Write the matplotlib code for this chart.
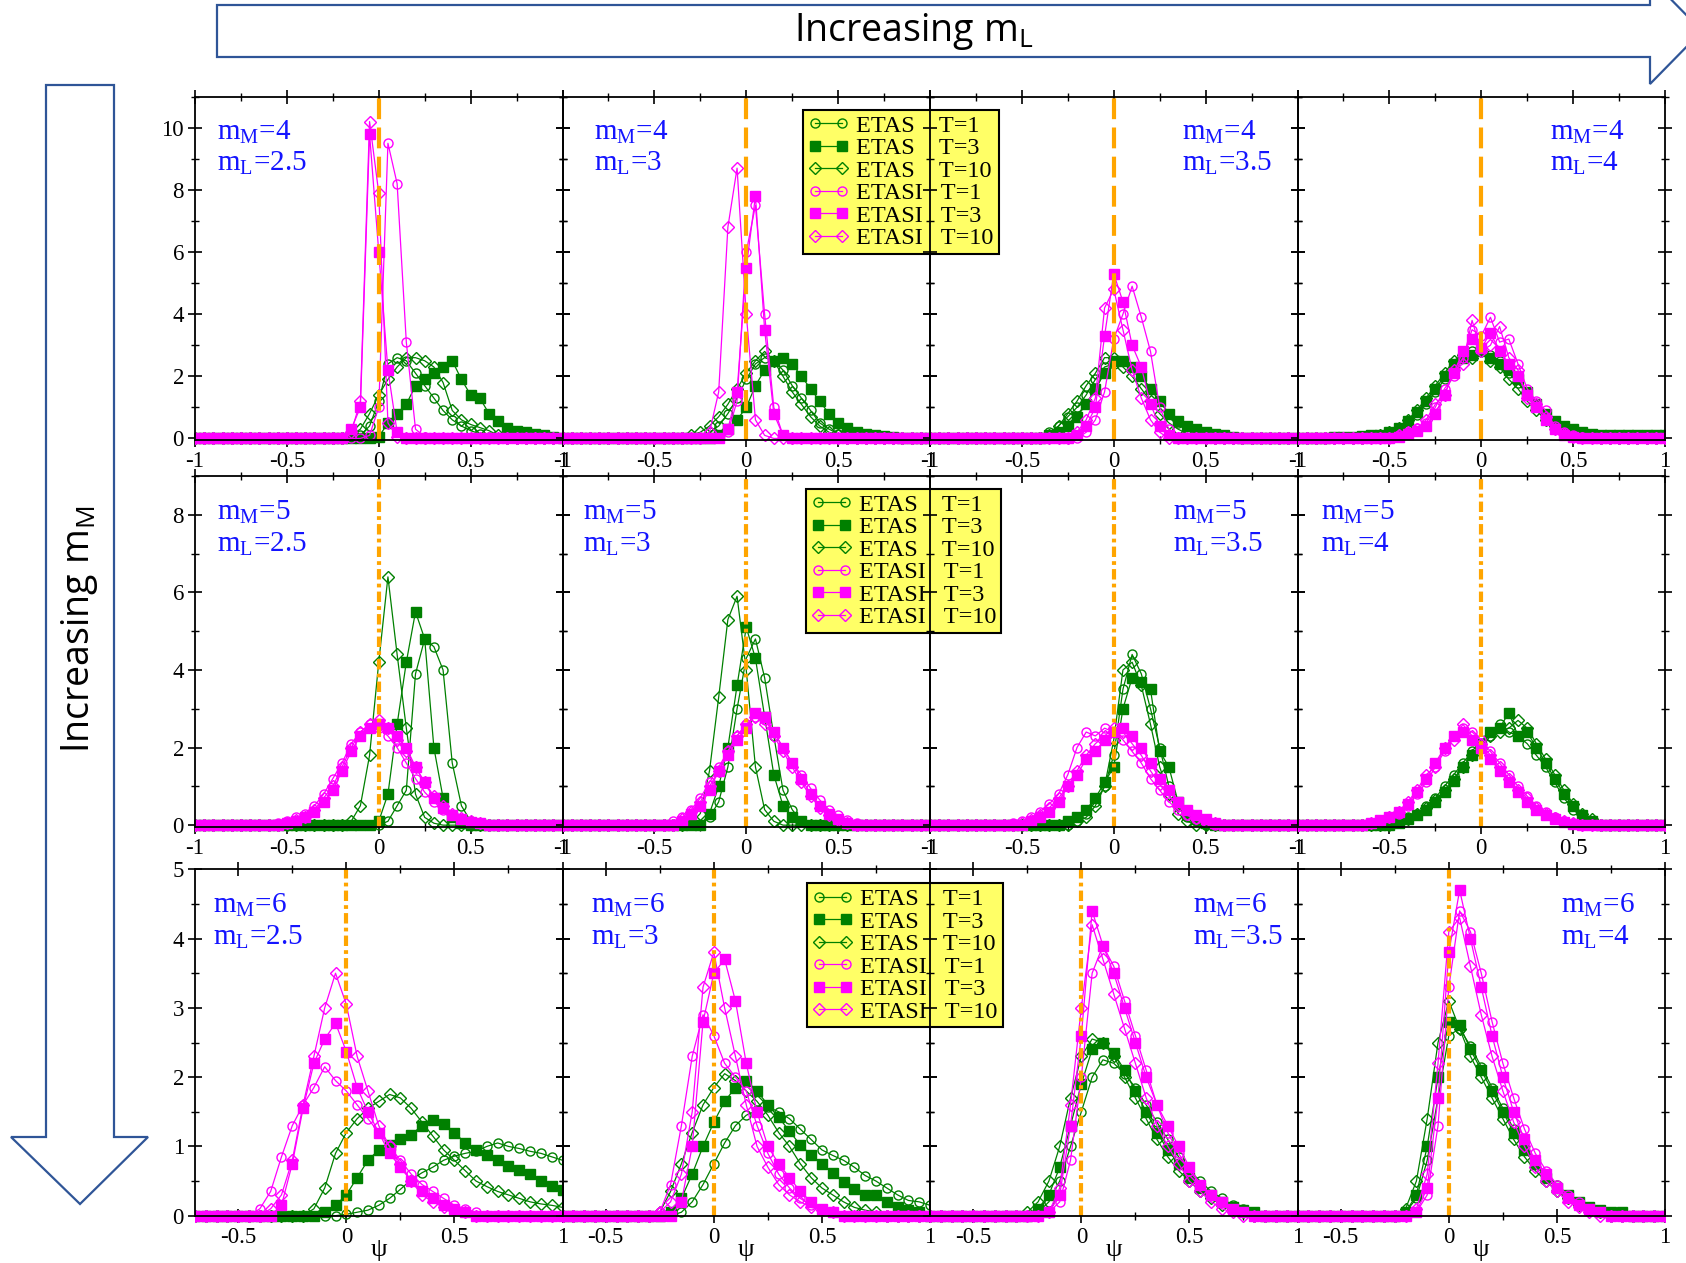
import matplotlib.pyplot as plt
from matplotlib.patches import Polygon, Rectangle
from matplotlib.ticker import MultipleLocator
import numpy as np

plt.rcParams['font.family'] = 'serif'
plt.rcParams['font.serif'] = ['Liberation Serif', 'DejaVu Serif']

# histogram bin centres in psi
psi = [-1.0, -0.95, -0.9, -0.85, -0.8, -0.75, -0.7, -0.65, -0.6, -0.55, -0.5,
       -0.45, -0.4, -0.35, -0.3, -0.25, -0.2, -0.15, -0.1, -0.05, 0.0,
       0.05, 0.1, 0.15, 0.2, 0.25, 0.3, 0.35, 0.4, 0.45, 0.5,
       0.55, 0.6, 0.65, 0.7, 0.75, 0.8, 0.85, 0.9, 0.95, 1.0]

series_names = ['ETAS    T=1', 'ETAS    T=3', 'ETAS    T=10',
                'ETASI   T=1', 'ETASI   T=3', 'ETASI   T=10']
m_M_values = ['4', '5', '6']
m_L_values = ['2.5', '3', '3.5', '4']

# each curve: (first bin with counts, densities from that bin on); zero elsewhere
# order: ETAS T=1, T=3, T=10, ETASI T=1, T=3, T=10
r1c1 = [
    (-0.1, [0.1, 0.4, 1.2, 2.4, 2.6, 2.5, 2.1, 1.7, 1.3, 0.9, 0.6, 0.4, 0.25, 0.15, 0.05]),
    (0.0, [0.05, 0.5, 0.8, 1.1, 1.7, 1.9, 2.1, 2.3, 2.5, 1.9, 1.4, 1.3, 0.8, 0.55, 0.35, 0.25, 0.2, 0.15, 0.1, 0.05]),
    (-0.15, [0.1, 0.3, 0.8, 1.4, 1.9, 2.3, 2.6, 2.6, 2.5, 2.3, 1.8, 0.9, 0.6, 0.45, 0.35, 0.25, 0.1]),
    (-0.05, [0.1, 1.0, 9.5, 8.2, 3.1, 0.3, 0.05]),
    (-0.15, [0.3, 1.0, 9.8, 6.0, 2.2, 0.2]),
    (-0.15, [0.2, 1.2, 10.2, 7.9, 0.5, 0.05]),
]
r1c2 = [
    (-0.2, [0.2, 0.4, 0.8, 1.3, 1.9, 2.4, 2.6, 2.5, 2.2, 1.7, 1.3, 0.9, 0.5, 0.3, 0.15, 0.05]),
    (-0.15, [0.1, 0.3, 0.6, 1.0, 1.7, 2.2, 2.5, 2.6, 2.4, 2.0, 1.6, 1.2, 0.8, 0.5, 0.35, 0.2, 0.15, 0.1, 0.07, 0.05, 0.03]),
    (-0.3, [0.1, 0.2, 0.4, 0.7, 1.1, 1.6, 2.1, 2.5, 2.8, 2.5, 2.0, 1.5, 1.1, 0.7, 0.4, 0.2, 0.1]),
    (-0.1, [0.2, 1.2, 6.0, 7.5, 4.0, 1.0, 0.1]),
    (-0.1, [0.3, 1.5, 5.5, 7.8, 3.5, 0.8, 0.1]),
    (-0.2, [0.2, 1.5, 6.8, 8.7, 4.0, 0.6, 0.1]),
]
r1c3 = [
    (-0.4, [0.05, 0.2, 0.4, 0.7, 1.0, 1.4, 1.9, 2.3, 2.4, 2.5, 2.3, 2.0, 1.6, 1.2, 0.8, 0.5, 0.3, 0.15, 0.05]),
    (-0.35, [0.1, 0.2, 0.4, 0.7, 1.1, 1.6, 2.1, 2.5, 2.5, 2.3, 2.0, 1.6, 1.2, 0.8, 0.55, 0.4, 0.3, 0.2, 0.15, 0.1, 0.05, 0.03]),
    (-0.35, [0.1, 0.4, 0.8, 1.2, 1.7, 2.1, 2.6, 2.6, 2.3, 2.0, 1.6, 1.2, 0.8, 0.5, 0.3, 0.15, 0.05]),
    (-0.15, [0.2, 0.6, 1.5, 3.2, 4.0, 4.9, 3.9, 2.8, 1.0, 0.3, 0.05]),
    (-0.2, [0.1, 0.4, 1.0, 3.3, 5.3, 4.4, 3.0, 2.3, 1.1, 0.4, 0.1]),
    (-0.2, [0.2, 0.6, 1.3, 4.2, 4.8, 3.5, 2.2, 1.3, 0.6, 0.2]),
]
r1c4 = [
    (-0.8, [0.03, 0.04, 0.05, 0.06, 0.08, 0.1, 0.15, 0.3, 0.45, 0.75, 1.1, 1.5, 1.9, 2.3, 2.6, 2.8, 2.9,
            2.7, 2.5, 2.1, 1.8, 1.4, 1.0, 0.7, 0.45, 0.3, 0.2, 0.12, 0.08, 0.06, 0.05, 0.04, 0.03]),
    (-0.8, [0.05, 0.05, 0.06, 0.08, 0.1, 0.12, 0.2, 0.35, 0.55, 0.85, 1.2, 1.6, 2.0, 2.4, 2.6, 2.7, 2.8,
            2.6, 2.4, 2.2, 1.9, 1.5, 1.1, 0.8, 0.55, 0.4, 0.3, 0.2, 0.15, 0.12, 0.1, 0.1, 0.1, 0.1, 0.1, 0.1, 0.1]),
    (-0.6, [0.05, 0.1, 0.2, 0.35, 0.6, 0.9, 1.3, 1.7, 2.1, 2.5, 2.7, 2.6, 2.8, 2.5, 2.3, 1.9, 1.6, 1.2,
            0.9, 0.6, 0.4, 0.25, 0.15, 0.1, 0.05]),
    (-0.45, [0.1, 0.2, 0.35, 0.5, 1.0, 1.6, 2.0, 2.6, 3.5, 3.3, 3.9, 3.1, 3.2, 2.4, 1.6, 1.2, 0.9, 0.4, 0.2, 0.1, 0.05]),
    (-0.45, [0.05, 0.15, 0.25, 0.4, 0.8, 1.4, 2.1, 2.8, 3.2, 2.9, 3.4, 2.8, 2.4, 2.0, 1.4, 1.0, 0.6, 0.3, 0.1, 0.05]),
    (-0.45, [0.1, 0.2, 0.3, 0.6, 1.1, 1.4, 2.2, 2.4, 3.8, 2.8, 3.0, 3.6, 2.6, 2.2, 1.3, 1.1, 0.7, 0.3, 0.15, 0.05]),
]

r2c1 = [
    (0.05, [0.1, 0.5, 0.9, 3.9, 4.8, 4.6, 4.0, 1.6, 0.5, 0.1]),
    (0.0, [0.1, 0.8, 2.6, 4.2, 5.5, 4.8, 2.0, 0.7, 0.2, 0.05]),
    (-0.15, [0.1, 0.5, 1.8, 4.2, 6.4, 4.4, 2.5, 0.8, 0.2, 0.05]),
    (-0.55, [0.05, 0.1, 0.2, 0.3, 0.5, 0.8, 1.2, 1.6, 2.1, 2.4, 2.6, 2.5, 2.3, 2.0, 1.6, 1.2, 0.85, 0.6, 0.4, 0.25, 0.15, 0.08, 0.05]),
    (-0.5, [0.05, 0.1, 0.2, 0.35, 0.6, 0.9, 1.4, 1.9, 2.3, 2.5, 2.6, 2.5, 2.3, 2.0, 1.5, 1.1, 0.7, 0.45, 0.25, 0.15, 0.08, 0.05]),
    (-0.5, [0.05, 0.12, 0.22, 0.4, 0.7, 1.0, 1.5, 2.0, 2.4, 2.6, 2.7, 2.5, 2.2, 1.9, 1.5, 1.1, 0.75, 0.5, 0.3, 0.18, 0.1, 0.05]),
]
r2c2 = [
    (-0.2, [0.2, 0.6, 1.5, 3.0, 4.3, 4.8, 3.8, 2.3, 0.9, 0.4, 0.1]),
    (-0.2, [0.3, 1.0, 2.0, 3.6, 5.1, 4.3, 2.8, 1.3, 0.5, 0.2, 0.1]),
    (-0.3, [0.05, 0.3, 1.4, 3.3, 5.3, 5.9, 4.0, 1.5, 0.4, 0.1]),
    (-0.4, [0.1, 0.2, 0.4, 0.7, 1.1, 1.5, 1.9, 2.3, 2.6, 2.8, 2.7, 2.4, 2.0, 1.6, 1.3, 0.95, 0.65, 0.4, 0.25, 0.12, 0.05]),
    (-0.35, [0.1, 0.3, 0.5, 0.9, 1.4, 1.8, 2.2, 2.5, 2.9, 2.8, 2.4, 2.0, 1.6, 1.2, 0.8, 0.5, 0.3, 0.15, 0.05]),
    (-0.35, [0.15, 0.35, 0.6, 1.0, 1.4, 1.9, 2.3, 2.6, 2.8, 2.6, 2.3, 1.9, 1.5, 1.1, 0.75, 0.45, 0.25, 0.12, 0.05]),
]
r2c3 = [
    (-0.2, [0.1, 0.3, 0.6, 1.0, 1.8, 3.5, 4.4, 3.9, 3.0, 2.0, 1.0, 0.5, 0.2, 0.1]),
    (-0.25, [0.1, 0.2, 0.4, 0.7, 1.1, 1.5, 3.0, 3.8, 3.7, 3.5, 1.9, 1.5, 0.6, 0.3, 0.15, 0.05]),
    (-0.2, [0.1, 0.2, 0.5, 1.0, 2.2, 4.0, 4.2, 3.6, 2.6, 1.5, 0.8, 0.3, 0.1]),
    (-0.55, [0.05, 0.1, 0.2, 0.35, 0.55, 0.8, 1.3, 2.0, 2.4, 2.3, 2.5, 2.4, 2.2, 1.9, 1.6, 1.2, 0.9, 0.6, 0.4, 0.25, 0.15, 0.08]),
    (-0.45, [0.1, 0.2, 0.35, 0.6, 1.0, 1.3, 1.7, 1.9, 2.2, 2.4, 2.5, 2.3, 2.0, 1.6, 1.2, 0.9, 0.6, 0.4, 0.25, 0.15, 0.05]),
    (-0.5, [0.05, 0.12, 0.25, 0.45, 0.7, 1.0, 1.4, 1.8, 2.1, 2.3, 2.5, 2.4, 2.1, 1.8, 1.4, 1.05, 0.75, 0.5, 0.3, 0.18, 0.1, 0.05]),
]
r2c4 = [
    (-0.45, [0.1, 0.2, 0.3, 0.5, 0.7, 1.0, 1.3, 1.6, 1.9, 2.2, 2.3, 2.6, 2.4, 2.3, 2.1, 1.8, 1.5, 1.1, 0.7, 0.4, 0.2, 0.1]),
    (-0.45, [0.05, 0.15, 0.25, 0.4, 0.6, 0.85, 1.15, 1.5, 1.8, 2.1, 2.4, 2.5, 2.9, 2.3, 2.4, 2.0, 1.6, 1.2, 0.8, 0.5, 0.25, 0.1]),
    (-0.45, [0.08, 0.15, 0.3, 0.45, 0.65, 0.9, 1.2, 1.5, 1.8, 2.0, 2.3, 2.4, 2.5, 2.7, 2.5, 2.1, 1.7, 1.3, 0.9, 0.55, 0.3, 0.15]),
    (-0.6, [0.05, 0.1, 0.2, 0.3, 0.5, 0.8, 1.1, 1.5, 1.9, 2.3, 2.5, 2.4, 2.2, 1.9, 1.6, 1.3, 1.0, 0.75, 0.5, 0.35, 0.2, 0.1, 0.05]),
    (-0.6, [0.05, 0.12, 0.22, 0.35, 0.55, 0.85, 1.2, 1.6, 2.0, 2.3, 2.4, 2.2, 2.0, 1.7, 1.4, 1.1, 0.85, 0.6, 0.4, 0.25, 0.15, 0.08, 0.04]),
    (-0.6, [0.05, 0.1, 0.2, 0.35, 0.6, 0.9, 1.3, 1.5, 2.0, 2.2, 2.6, 2.3, 2.1, 1.8, 1.5, 1.2, 0.9, 0.7, 0.45, 0.3, 0.18, 0.1, 0.05]),
]

r3c1 = [
    (0.0, [0.02, 0.05, 0.08, 0.15, 0.25, 0.38, 0.52, 0.62, 0.7, 0.8, 0.86, 0.9, 0.93, 1.0, 1.05, 1.0, 0.97, 0.93, 0.9, 0.85, 0.8]),
    (-0.1, [0.05, 0.15, 0.3, 0.55, 0.8, 0.95, 1.02, 1.1, 1.17, 1.3, 1.38, 1.33, 1.2, 1.05, 0.95, 0.87, 0.8, 0.72, 0.66, 0.6, 0.5, 0.43, 0.37]),
    (-0.15, [0.1, 0.4, 0.9, 1.2, 1.4, 1.55, 1.65, 1.75, 1.7, 1.55, 1.35, 1.15, 0.95, 0.8, 0.65, 0.5, 0.42, 0.35, 0.3, 0.25, 0.2, 0.17, 0.15, 0.12]),
    (-0.4, [0.1, 0.35, 0.85, 1.3, 1.6, 1.85, 2.15, 1.95, 1.8, 1.6, 1.4, 1.2, 1.0, 0.8, 0.6, 0.45, 0.35, 0.25, 0.15, 0.1, 0.05]),
    (-0.3, [0.15, 0.75, 1.55, 2.2, 2.55, 2.78, 2.37, 1.85, 1.5, 1.2, 0.9, 0.7, 0.5, 0.35, 0.25, 0.15, 0.1, 0.05]),
    (-0.35, [0.1, 0.3, 0.8, 1.6, 2.3, 3.0, 3.5, 3.05, 2.3, 1.8, 1.3, 1.0, 0.75, 0.5, 0.3, 0.2, 0.12, 0.08, 0.05]),
]
r3c2 = [
    (-0.15, [0.05, 0.2, 0.45, 0.75, 1.05, 1.3, 1.45, 1.52, 1.57, 1.5, 1.4, 1.25, 1.1, 0.95, 0.87, 0.8, 0.7, 0.58, 0.5, 0.4, 0.3, 0.22, 0.2, 0.15]),
    (-0.2, [0.05, 0.25, 0.6, 1.0, 1.35, 1.65, 1.85, 1.95, 1.8, 1.6, 1.42, 1.22, 1.02, 0.88, 0.75, 0.62, 0.48, 0.38, 0.3, 0.3, 0.2, 0.12, 0.08, 0.05]),
    (-0.25, [0.05, 0.35, 0.75, 1.2, 1.6, 1.85, 2.05, 1.95, 1.8, 1.65, 1.45, 1.2, 1.0, 0.75, 0.55, 0.4, 0.3, 0.2, 0.12, 0.08, 0.05]),
    (-0.25, [0.05, 0.45, 1.3, 2.3, 2.9, 2.6, 2.2, 2.0, 1.8, 1.3, 0.9, 0.6, 0.4, 0.25, 0.15, 0.1, 0.05]),
    (-0.15, [0.2, 1.0, 2.8, 3.5, 3.7, 3.1, 2.2, 1.5, 1.0, 0.75, 0.55, 0.35, 0.2, 0.1, 0.05]),
    (-0.25, [0.05, 0.2, 0.6, 1.5, 3.3, 3.8, 3.0, 2.3, 1.6, 1.0, 0.7, 0.45, 0.3, 0.2, 0.12, 0.08, 0.05]),
]
r3c3 = [
    (-0.2, [0.05, 0.2, 0.5, 1.0, 1.5, 2.0, 2.25, 2.2, 2.05, 1.85, 1.6, 1.35, 1.1, 0.85, 0.65, 0.5, 0.35, 0.25, 0.15, 0.1, 0.05]),
    (-0.2, [0.1, 0.3, 0.7, 1.3, 1.9, 2.4, 2.5, 2.35, 2.1, 1.8, 1.5, 1.2, 0.95, 0.75, 0.55, 0.4, 0.3, 0.2, 0.12, 0.08, 0.05]),
    (-0.25, [0.05, 0.2, 0.5, 1.0, 1.7, 2.3, 2.55, 2.5, 2.3, 2.0, 1.7, 1.4, 1.1, 0.85, 0.65, 0.5, 0.35, 0.25, 0.15, 0.1, 0.05]),
    (-0.15, [0.05, 0.2, 0.8, 2.0, 3.5, 3.9, 3.6, 3.1, 2.6, 2.1, 1.6, 1.2, 0.9, 0.65, 0.45, 0.3, 0.2, 0.1, 0.05]),
    (-0.15, [0.05, 0.3, 1.3, 2.6, 4.4, 3.9, 3.5, 3.0, 2.5, 2.0, 1.6, 1.3, 1.0, 0.7, 0.45, 0.3, 0.2, 0.1, 0.05]),
    (-0.15, [0.05, 0.4, 1.6, 3.0, 4.2, 3.7, 3.2, 2.7, 2.2, 1.7, 1.3, 1.0, 0.75, 0.5, 0.35, 0.2, 0.1, 0.05]),
]
r3c4 = [
    (-0.2, [0.05, 0.25, 0.8, 1.7, 2.6, 2.7, 2.45, 2.15, 1.85, 1.55, 1.25, 1.0, 0.8, 0.6, 0.45, 0.3, 0.2, 0.12, 0.08, 0.05]),
    (-0.2, [0.05, 0.3, 1.0, 2.0, 2.8, 2.75, 2.4, 2.1, 1.8, 1.5, 1.2, 0.95, 0.75, 0.55, 0.4, 0.3, 0.2, 0.12, 0.08, 0.05, 0.05]),
    (-0.2, [0.1, 0.5, 1.4, 2.5, 3.1, 2.7, 2.3, 2.0, 1.7, 1.4, 1.1, 0.85, 0.65, 0.5, 0.35, 0.25, 0.15, 0.1, 0.05]),
    (-0.15, [0.05, 0.3, 1.3, 3.3, 4.4, 4.1, 3.5, 2.8, 2.2, 1.7, 1.25, 0.9, 0.65, 0.45, 0.3, 0.2, 0.1, 0.05]),
    (-0.15, [0.05, 0.4, 1.7, 3.8, 4.7, 4.0, 3.3, 2.6, 2.0, 1.5, 1.1, 0.8, 0.6, 0.4, 0.25, 0.15, 0.1, 0.05]),
    (-0.15, [0.1, 0.6, 2.2, 4.1, 4.3, 3.6, 2.9, 2.3, 1.8, 1.35, 1.0, 0.7, 0.5, 0.35, 0.2, 0.12, 0.05]),
]

panels = [[r1c1, r1c2, r1c3, r1c4],
          [r2c1, r2c2, r2c3, r2c4],
          [r3c1, r3c2, r3c3, r3c4]]


def on_grid(start, vals):
    y = np.zeros(len(psi))
    i = psi.index(start)
    y[i:i + len(vals)] = vals
    return y


GREEN = '#008000'
MAGENTA = '#ff00ff'
ORANGE = '#ffa500'
BLUE = '#1414ff'
ARROW_EDGE = '#2f5597'
markers = [('o', 'none', 6.5), ('s', 'full', 7.6), ('D', 'none', 6.0)]

# per-row axis settings
xlims = [(-1, 1), (-1, 1), (-0.7, 1)]
xticks = [[-1, -0.5, 0, 0.5, 1], [-1, -0.5, 0, 0.5, 1], [-0.5, 0, 0.5, 1]]
xticklabels = [['-1', '-0.5', '0', '0.5', '1'], ['-1', '-0.5', '0', '0.5', '1'], ['-0.5', '0', '0.5', '1']]
ylims = [(-0.05, 11), (-0.04, 9), (0, 5)]
yticks = [[0, 2, 4, 6, 8, 10], [0, 2, 4, 6, 8], [0, 1, 2, 3, 4, 5]]
yminor = [1, 1, 0.5]
ref_dashes = [(5, 2), (2.5, 1.0, 0.9, 1.0), (2.5, 1.0, 0.9, 1.0)]
label_x = [[0.06, 0.087, 0.687, 0.687],
           [0.059, 0.055, 0.66, 0.065],
           [0.05, 0.078, 0.716, 0.717]]
legend_anchor = [(0.654, 0.962), (0.662, 0.963), (0.665, 0.96)]

# panel frame in pixels
W, H = 1686, 1263
col_edges = [195, 562.5, 930, 1297.5, 1665]
row_spans = [(96.7, 440), (476, 826.7), (869.3, 1215.7)]

fig = plt.figure(figsize=(W / 100, H / 100), dpi=100)
fig.patch.set_facecolor('white')

for r in range(3):
    top, bottom = row_spans[r]
    for c in range(4):
        left, right = col_edges[c], col_edges[c + 1]
        ax = fig.add_axes([left / W, 1 - bottom / H, (right - left) / W, (bottom - top) / H])
        ax.set_facecolor('none')

        # clip at the panel sides only, so the zero band can hang below the axis
        clip = Rectangle((0, -0.1), 1, 1.2, transform=ax.transAxes)
        for k, (start, vals) in enumerate(panels[r][c]):
            marker, fill, ms = markers[k % 3]
            line, = ax.plot(psi, on_grid(start, vals), color=GREEN if k < 3 else MAGENTA,
                            lw=0.9, marker=marker, fillstyle=fill, ms=ms, mew=1.0,
                            label=series_names[k])
            line.set_clip_path(clip)

        ax.axvline(0, color=ORANGE, lw=3, dashes=ref_dashes[r], zorder=5)

        ax.set_xlim(*xlims[r])
        ax.set_ylim(*ylims[r])
        ax.set_xticks(xticks[r])
        ax.set_xticklabels(xticklabels[r])
        ax.set_yticks(yticks[r])
        ax.set_yticklabels([str(v) for v in yticks[r]])
        ax.xaxis.set_minor_locator(MultipleLocator(0.25))
        ax.yaxis.set_minor_locator(MultipleLocator(yminor[r]))
        ax.tick_params(which='both', direction='inout', top=True, right=True,
                       labelsize=16.5, pad=3)
        ax.tick_params(which='major', length=10, width=1.2)
        ax.tick_params(which='minor', length=6, width=1.0)
        if c > 0:
            ax.tick_params(labelleft=False)
        for sp in ax.spines.values():
            sp.set_linewidth(1.3)
            sp.set_zorder(6)

        if r == 2:
            ax.set_xlabel('ψ', fontsize=19, labelpad=-6)

        # m_M / m_L annotation
        lx = label_x[r][c]
        ax.text(lx, 0.877, 'm$_\\mathregular{M}$=' + m_M_values[r], transform=ax.transAxes,
                color=BLUE, fontsize=21, ha='left', va='baseline')
        ax.text(lx, 0.785, 'm$_\\mathregular{L}$=' + m_L_values[c], transform=ax.transAxes,
                color=BLUE, fontsize=21, ha='left', va='baseline')

        if c == 1:
            leg = ax.legend(loc='upper left', bbox_to_anchor=legend_anchor[r], fontsize=17.5,
                            numpoints=2, frameon=True, fancybox=False, framealpha=1,
                            facecolor='#ffff66', edgecolor='black', borderpad=0.2,
                            labelspacing=0.02, handlelength=1.7, handletextpad=0.3,
                            borderaxespad=0)
            leg.get_frame().set_linewidth(1.5)
            leg.set_zorder(10)


def fig_poly(pts):
    return Polygon([(x / W, 1 - y / H) for x, y in pts], closed=True,
                   transform=fig.transFigure, facecolor='white',
                   edgecolor=ARROW_EDGE, lw=1.6)


# block arrows along the two parameter directions
fig.add_artist(fig_poly([(217, 5), (1650, 5), (1650, -22), (1702, 31),
                         (1650, 84), (1650, 57), (217, 57)]))
fig.add_artist(fig_poly([(46, 85), (114, 85), (114, 1137), (148, 1137),
                         (80, 1204), (11, 1137), (46, 1137)]))
fig.text(914 / W, 1 - 31 / H, 'Increasing m$_\\mathregular{L}$', family='Open Sans',
         fontsize=27, ha='center', va='center')
fig.text(80 / W, 1 - 629 / H, 'Increasing m$_\\mathregular{M}$', family='Open Sans',
         fontsize=27, ha='center', va='center', rotation=90)

fig.savefig('out.png', dpi=100)
